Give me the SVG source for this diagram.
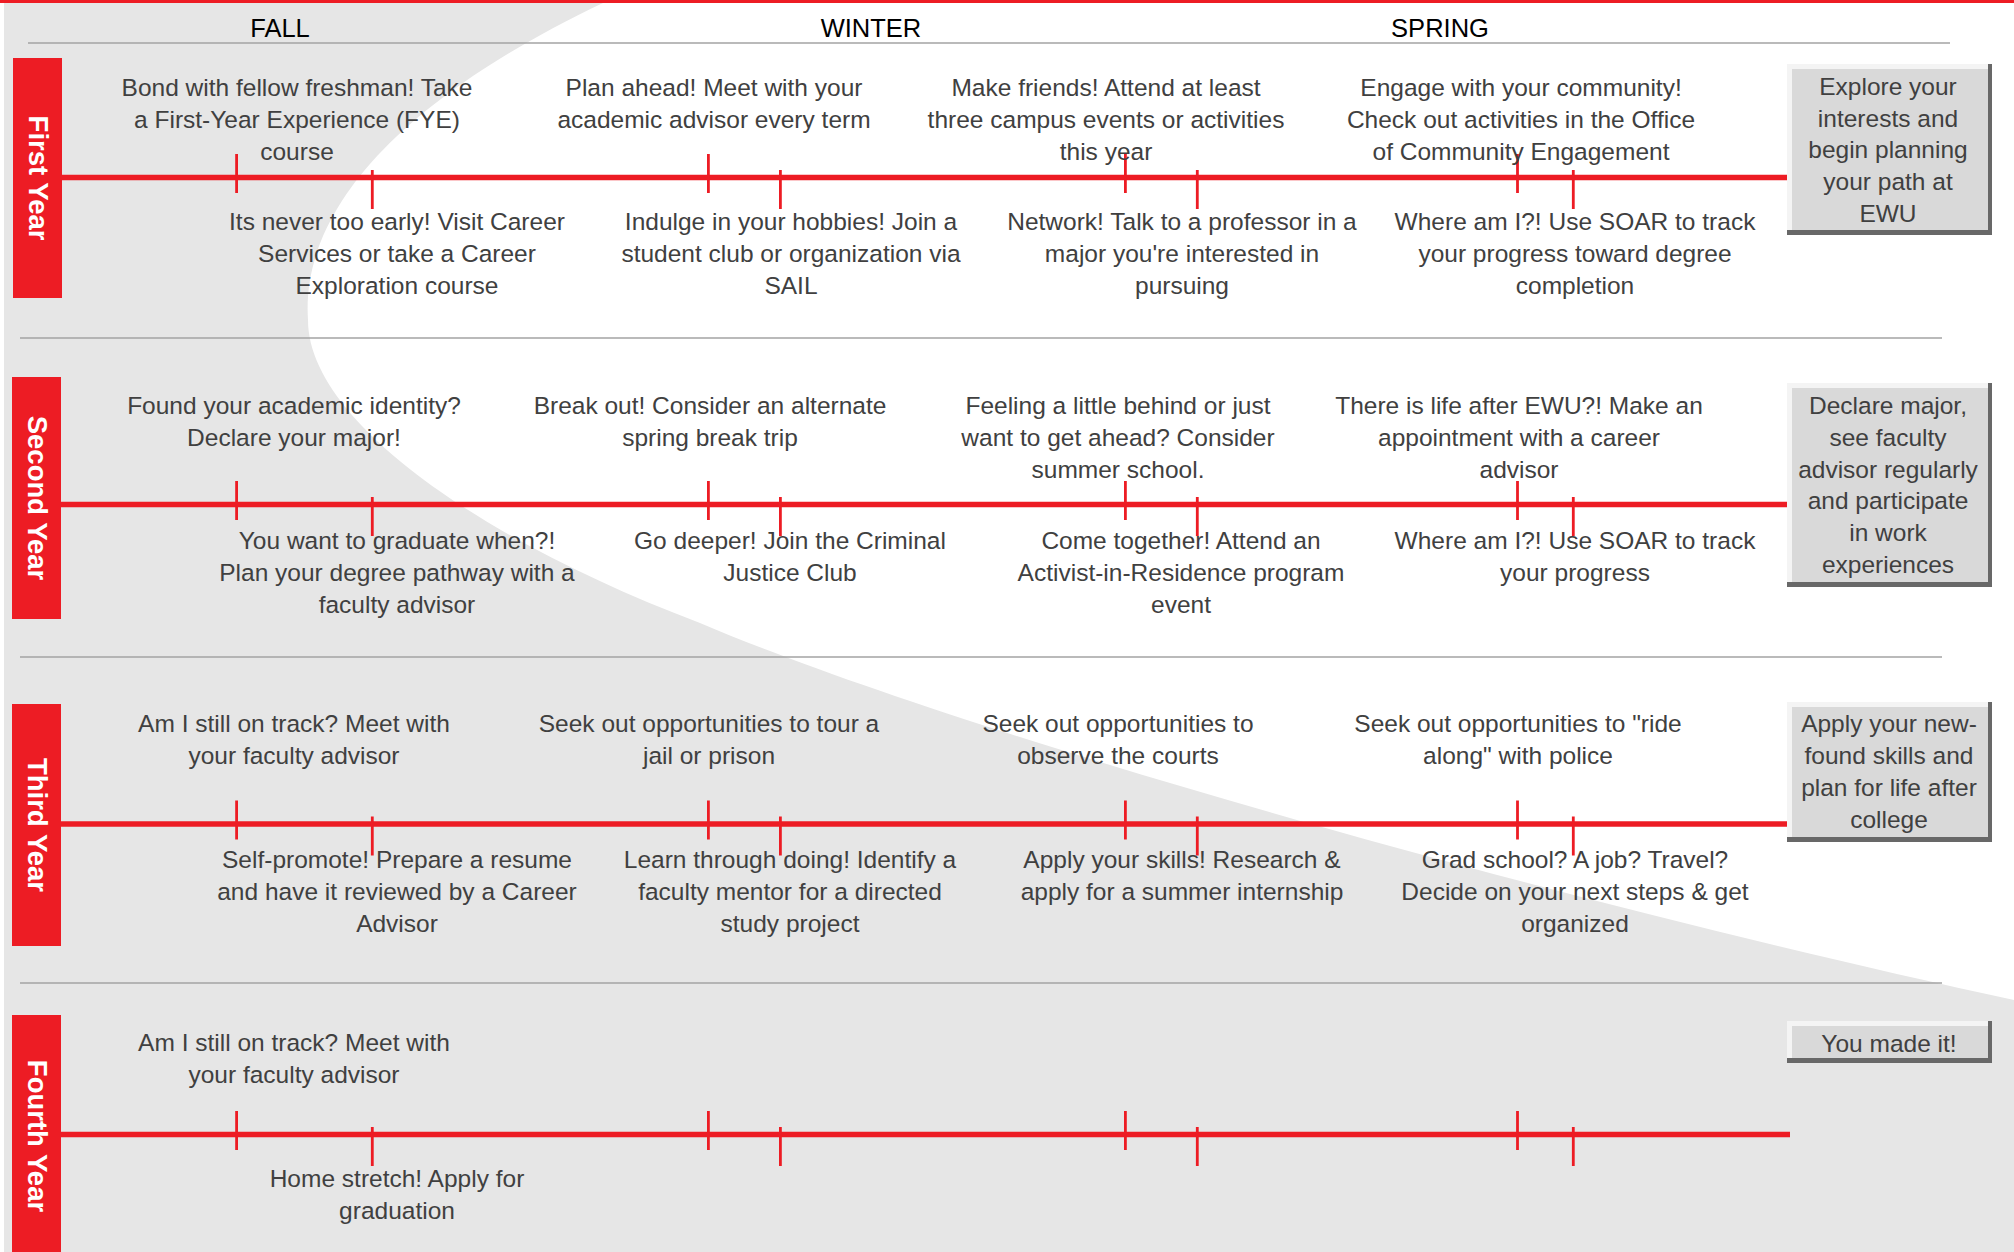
<svg xmlns="http://www.w3.org/2000/svg" width="2014" height="1252" viewBox="0 0 2014 1252">
<style>
.t{font-family:"Liberation Sans",Arial,sans-serif;font-size:24.5px;fill:#404040;text-anchor:middle}
.s{font-family:"Liberation Sans",Arial,sans-serif;font-size:25.5px;fill:#000;text-anchor:middle}
.y{font-family:"Liberation Sans",Arial,sans-serif;font-size:27.5px;font-weight:bold;fill:#fff;text-anchor:middle}
.yr{fill:#ed1c24}
.sep{stroke:#a3a3a3;stroke-width:1.6;fill:none}
.tl{stroke:#ed1c24;stroke-width:5.4;fill:none}
.tk{stroke:#ed1c24;stroke-width:2.8;fill:none}
.bd{fill:#686868}
.bl{fill:#f4f4f4}
.bf{fill:#d9d9d9}
</style>
<rect x="0" y="0" width="2014" height="1252" fill="#ffffff"/>
<path d="M4,3 L603,3 C420,90 300,200 308,320 C308,420 480,540 700,623 C950,730 1550,900 2014,1000 L2014,1252 L4,1252 Z" fill="#e6e6e6"/>
<rect x="0" y="0" width="2014" height="3" fill="#ed1c24"/>
<g id="seasons">
<text class="s" x="280" y="37">FALL</text>
<text class="s" x="871" y="37">WINTER</text>
<text class="s" x="1440" y="37">SPRING</text>
</g>
<g id="separators">
<line class="sep" x1="28" y1="43" x2="1950" y2="43"/>
<line class="sep" x1="20" y1="338" x2="1942" y2="338"/>
<line class="sep" x1="20" y1="657" x2="1942" y2="657"/>
<line class="sep" x1="20" y1="983" x2="1942" y2="983"/>
</g>
<g id="connectors">
<line class="tl" x1="62" y1="177.5" x2="1789" y2="177.5"/>
<line class="tl" x1="61" y1="504.5" x2="1789" y2="504.5"/>
<line class="tl" x1="61" y1="824" x2="1789" y2="824"/>
<line class="tl" x1="61" y1="1134.5" x2="1790" y2="1134.5"/>
<path class="tk" d="M236.6,154V193M708.4,154V193M1125.4,154V193M1517.5,154V193M372.3,170V209M780.4,170V209M1197.3,170V209M1573.3,170V209"/>
<path class="tk" d="M236.6,481V520M708.4,481V520M1125.4,481V520M1517.5,481V520M372.3,497V536M780.4,497V536M1197.3,497V536M1573.3,497V536"/>
<path class="tk" d="M236.6,800.5V839.5M708.4,800.5V839.5M1125.4,800.5V839.5M1517.5,800.5V839.5M372.3,816.5V855.5M780.4,816.5V855.5M1197.3,816.5V855.5M1573.3,816.5V855.5"/>
<path class="tk" d="M236.6,1111V1150M708.4,1111V1150M1125.4,1111V1150M1517.5,1111V1150M372.3,1127V1166M780.4,1127V1166M1197.3,1127V1166M1573.3,1127V1166"/>
</g>
<g id="year1">
<rect class="yr" x="13" y="58" width="49" height="240"/>
<text class="y" transform="translate(38,178) rotate(90)" x="0" y="9.5">First Year</text>
</g>
<g id="year2">
<rect class="yr" x="12" y="377" width="49" height="242"/>
<text class="y" transform="translate(37,498) rotate(90)" x="0" y="9.5">Second Year</text>
</g>
<g id="year3">
<rect class="yr" x="12" y="704" width="49" height="242"/>
<text class="y" transform="translate(37,825) rotate(90)" x="0" y="9.5">Third Year</text>
</g>
<g id="year4">
<rect class="yr" x="12" y="1015" width="49" height="237"/>
<text class="y" transform="translate(37,1136) rotate(90)" x="0" y="9.5">Fourth Year</text>
</g>
<g id="r1u1"><text class="t" x="297" y="95.7">Bond with fellow freshman! Take<tspan x="297" dy="32">a First-Year Experience (FYE)</tspan><tspan x="297" dy="32">course</tspan></text></g>
<g id="r1u2"><text class="t" x="714" y="95.7">Plan ahead! Meet with your<tspan x="714" dy="32">academic advisor every term</tspan></text></g>
<g id="r1u3"><text class="t" x="1106" y="95.7">Make friends! Attend at least<tspan x="1106" dy="32">three campus events or activities</tspan><tspan x="1106" dy="32">this year</tspan></text></g>
<g id="r1u4"><text class="t" x="1521" y="95.7">Engage with your community!<tspan x="1521" dy="32">Check out activities in the Office</tspan><tspan x="1521" dy="32">of Community Engagement</tspan></text></g>
<g id="r1l1"><text class="t" x="397" y="230">Its never too early! Visit Career<tspan x="397" dy="32">Services or take a Career</tspan><tspan x="397" dy="32">Exploration course</tspan></text></g>
<g id="r1l2"><text class="t" x="791" y="230">Indulge in your hobbies! Join a<tspan x="791" dy="32">student club or organization via</tspan><tspan x="791" dy="32">SAIL</tspan></text></g>
<g id="r1l3"><text class="t" x="1182" y="230">Network! Talk to a professor in a<tspan x="1182" dy="32">major you're interested in</tspan><tspan x="1182" dy="32">pursuing</tspan></text></g>
<g id="r1l4"><text class="t" x="1575" y="230">Where am I?! Use SOAR to track<tspan x="1575" dy="32">your progress toward degree</tspan><tspan x="1575" dy="32">completion</tspan></text></g>
<g id="r2u1"><text class="t" x="294" y="414.3">Found your academic identity?<tspan x="294" dy="32">Declare your major!</tspan></text></g>
<g id="r2u2"><text class="t" x="710" y="414.3">Break out! Consider an alternate<tspan x="710" dy="32">spring break trip</tspan></text></g>
<g id="r2u3"><text class="t" x="1118" y="414.3">Feeling a little behind or just<tspan x="1118" dy="32">want to get ahead? Consider</tspan><tspan x="1118" dy="32">summer school.</tspan></text></g>
<g id="r2u4"><text class="t" x="1519" y="414.3">There is life after EWU?! Make an<tspan x="1519" dy="32">appointment with a career</tspan><tspan x="1519" dy="32">advisor</tspan></text></g>
<g id="r2l1"><text class="t" x="397" y="549">You want to graduate when?!<tspan x="397" dy="32">Plan your degree pathway with a</tspan><tspan x="397" dy="32">faculty advisor</tspan></text></g>
<g id="r2l2"><text class="t" x="790" y="549">Go deeper! Join the Criminal<tspan x="790" dy="32">Justice Club</tspan></text></g>
<g id="r2l3"><text class="t" x="1181" y="549">Come together! Attend an<tspan x="1181" dy="32">Activist-in-Residence program</tspan><tspan x="1181" dy="32">event</tspan></text></g>
<g id="r2l4"><text class="t" x="1575" y="549">Where am I?! Use SOAR to track<tspan x="1575" dy="32">your progress</tspan></text></g>
<g id="r3u1"><text class="t" x="294" y="732.3">Am I still on track? Meet with<tspan x="294" dy="32">your faculty advisor</tspan></text></g>
<g id="r3u2"><text class="t" x="709" y="732.3">Seek out opportunities to tour a<tspan x="709" dy="32">jail or prison</tspan></text></g>
<g id="r3u3"><text class="t" x="1118" y="732.3">Seek out opportunities to<tspan x="1118" dy="32">observe the courts</tspan></text></g>
<g id="r3u4"><text class="t" x="1518" y="732.3">Seek out opportunities to "ride<tspan x="1518" dy="32">along" with police</tspan></text></g>
<g id="r3l1"><text class="t" x="397" y="868.3">Self-promote! Prepare a resume<tspan x="397" dy="32">and have it reviewed by a Career</tspan><tspan x="397" dy="32">Advisor</tspan></text></g>
<g id="r3l2"><text class="t" x="790" y="868.3">Learn through doing! Identify a<tspan x="790" dy="32">faculty mentor for a directed</tspan><tspan x="790" dy="32">study project</tspan></text></g>
<g id="r3l3"><text class="t" x="1182" y="868.3">Apply your skills! Research &amp;<tspan x="1182" dy="32">apply for a summer internship</tspan></text></g>
<g id="r3l4"><text class="t" x="1575" y="868.3">Grad school? A job? Travel?<tspan x="1575" dy="32">Decide on your next steps &amp; get</tspan><tspan x="1575" dy="32">organized</tspan></text></g>
<g id="r4u1"><text class="t" x="294" y="1051">Am I still on track? Meet with<tspan x="294" dy="32">your faculty advisor</tspan></text></g>
<g id="r4l1"><text class="t" x="397" y="1187.3">Home stretch! Apply for<tspan x="397" dy="32">graduation</tspan></text></g>
<g id="goal1">
<rect class="bd" x="1787" y="64" width="205" height="171"/>
<rect class="bl" x="1787" y="64" width="201" height="166"/>
<rect class="bf" x="1792" y="69" width="196" height="161"/>
<text class="t" x="1888" y="95">Explore your<tspan x="1888" dy="31.7">interests and</tspan><tspan x="1888" dy="31.7">begin planning</tspan><tspan x="1888" dy="31.7">your path at</tspan><tspan x="1888" dy="31.7">EWU</tspan></text>
</g>
<g id="goal2">
<rect class="bd" x="1787" y="383" width="205" height="204"/>
<rect class="bl" x="1787" y="383" width="201" height="199"/>
<rect class="bf" x="1792" y="388" width="196" height="194"/>
<text class="t" x="1888" y="414">Declare major,<tspan x="1888" dy="31.8">see faculty</tspan><tspan x="1888" dy="31.8">advisor regularly</tspan><tspan x="1888" dy="31.8">and participate</tspan><tspan x="1888" dy="31.8">in work</tspan><tspan x="1888" dy="31.8">experiences</tspan></text>
</g>
<g id="goal3">
<rect class="bd" x="1787" y="702" width="205" height="140"/>
<rect class="bl" x="1787" y="702" width="201" height="135"/>
<rect class="bf" x="1792" y="707" width="196" height="130"/>
<text class="t" x="1889" y="732">Apply your new-<tspan x="1889" dy="32">found skills and</tspan><tspan x="1889" dy="32">plan for life after</tspan><tspan x="1889" dy="32">college</tspan></text>
</g>
<g id="goal4">
<rect class="bd" x="1787" y="1021" width="205" height="42"/>
<rect class="bl" x="1787" y="1021" width="201" height="37"/>
<rect class="bf" x="1792" y="1026" width="196" height="32"/>
<text class="t" x="1889" y="1051.5">You made it!</text>
</g>
</svg>
